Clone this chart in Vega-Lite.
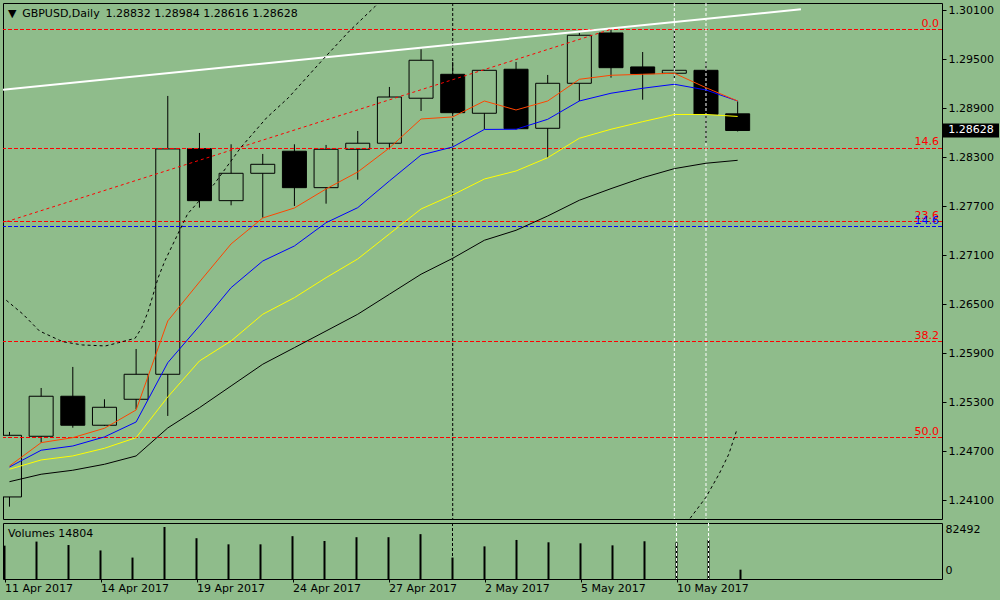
{
  "$schema": "https://vega.github.io/schema/vega-lite/v6.json",
  "background": "#8FBC8B",
  "padding": {"left": 2, "top": 2, "right": 2, "bottom": 6},
  "spacing": 2,
  "config": {
    "font": "DejaVu Sans",
    "view": {"stroke": "#000000", "strokeWidth": 1, "fill": "#8FBC8B"}
  },
  "datasets": {
    "candles": [
      {"i": 0, "date": "11 Apr 2017", "open": 1.24141, "high": 1.24937, "low": 1.24022, "close": 1.24896, "volume": 52900, "ma_orange": 1.24520, "ma_blue": 1.24508, "ma_yellow": 1.24480, "ma_black": 1.24328},
      {"i": 1, "date": "12 Apr 2017", "open": 1.24884, "high": 1.25475, "low": 1.24806, "close": 1.25374, "volume": 59360, "ma_orange": 1.24806, "ma_blue": 1.24713, "ma_yellow": 1.24594, "ma_black": 1.24419},
      {"i": 2, "date": "13 Apr 2017", "open": 1.25374, "high": 1.25733, "low": 1.24989, "close": 1.25019, "volume": 53860, "ma_orange": 1.24867, "ma_blue": 1.24765, "ma_yellow": 1.24643, "ma_black": 1.24468},
      {"i": 3, "date": "14 Apr 2017", "open": 1.25019, "high": 1.25337, "low": 1.25010, "close": 1.25239, "volume": 45290, "ma_orange": 1.24982, "ma_blue": 1.24876, "ma_yellow": 1.24737, "ma_black": 1.24541},
      {"i": 4, "date": "17 Apr 2017", "open": 1.25337, "high": 1.25953, "low": 1.25215, "close": 1.25643, "volume": 33970, "ma_orange": 1.25206, "ma_blue": 1.25059, "ma_yellow": 1.24867, "ma_black": 1.24643},
      {"i": 5, "date": "18 Apr 2017", "open": 1.25643, "high": 1.29051, "low": 1.25133, "close": 1.28402, "volume": 82492, "ma_orange": 1.26296, "ma_blue": 1.25785, "ma_yellow": 1.25365, "ma_black": 1.24986},
      {"i": 6, "date": "19 Apr 2017", "open": 1.28405, "high": 1.28598, "low": 1.27683, "close": 1.27769, "volume": 64700, "ma_orange": 1.26773, "ma_blue": 1.26235, "ma_yellow": 1.25806, "ma_black": 1.25234},
      {"i": 7, "date": "20 Apr 2017", "open": 1.27769, "high": 1.28459, "low": 1.27712, "close": 1.28104, "volume": 55000, "ma_orange": 1.27239, "ma_blue": 1.26704, "ma_yellow": 1.26051, "ma_black": 1.25500},
      {"i": 8, "date": "21 Apr 2017", "open": 1.28104, "high": 1.28341, "low": 1.27561, "close": 1.28214, "volume": 55000, "ma_orange": 1.27557, "ma_blue": 1.27030, "ma_yellow": 1.26378, "ma_black": 1.25766},
      {"i": 9, "date": "24 Apr 2017", "open": 1.28374, "high": 1.28459, "low": 1.27704, "close": 1.27928, "volume": 67940, "ma_orange": 1.27679, "ma_blue": 1.27214, "ma_yellow": 1.26581, "ma_black": 1.25969},
      {"i": 10, "date": "25 Apr 2017", "open": 1.27928, "high": 1.28451, "low": 1.27732, "close": 1.28398, "volume": 60330, "ma_orange": 1.27912, "ma_blue": 1.27499, "ma_yellow": 1.26826, "ma_black": 1.26173},
      {"i": 11, "date": "26 Apr 2017", "open": 1.28398, "high": 1.28622, "low": 1.28026, "close": 1.28472, "volume": 66320, "ma_orange": 1.28120, "ma_blue": 1.27683, "ma_yellow": 1.27055, "ma_black": 1.26378},
      {"i": 12, "date": "27 Apr 2017", "open": 1.28472, "high": 1.29161, "low": 1.28398, "close": 1.29038, "volume": 66320, "ma_orange": 1.28414, "ma_blue": 1.28010, "ma_yellow": 1.27361, "ma_black": 1.26623},
      {"i": 13, "date": "28 Apr 2017", "open": 1.29023, "high": 1.29622, "low": 1.28867, "close": 1.29488, "volume": 71170, "ma_orange": 1.28769, "ma_blue": 1.28328, "ma_yellow": 1.27667, "ma_black": 1.26868},
      {"i": 14, "date": "1 May 2017", "open": 1.29316, "high": 1.29467, "low": 1.28830, "close": 1.28846, "volume": 33970, "ma_orange": 1.28794, "ma_blue": 1.28426, "ma_yellow": 1.27839, "ma_black": 1.27063},
      {"i": 15, "date": "2 May 2017", "open": 1.28839, "high": 1.29370, "low": 1.28643, "close": 1.29365, "volume": 51760, "ma_orange": 1.28989, "ma_blue": 1.28641, "ma_yellow": 1.28034, "ma_black": 1.27284},
      {"i": 16, "date": "3 May 2017", "open": 1.29378, "high": 1.29467, "low": 1.28640, "close": 1.28650, "volume": 61950, "ma_orange": 1.28879, "ma_blue": 1.28643, "ma_yellow": 1.28132, "ma_black": 1.27406},
      {"i": 17, "date": "4 May 2017", "open": 1.28655, "high": 1.29308, "low": 1.28295, "close": 1.29206, "volume": 58230, "ma_orange": 1.28989, "ma_blue": 1.28765, "ma_yellow": 1.28295, "ma_black": 1.27581},
      {"i": 18, "date": "5 May 2017", "open": 1.29206, "high": 1.29822, "low": 1.28989, "close": 1.29794, "volume": 56610, "ma_orange": 1.29255, "ma_blue": 1.28989, "ma_yellow": 1.28533, "ma_black": 1.27774},
      {"i": 19, "date": "8 May 2017", "open": 1.29822, "high": 1.29867, "low": 1.29275, "close": 1.29397, "volume": 53380, "ma_orange": 1.29304, "ma_blue": 1.29084, "ma_yellow": 1.28643, "ma_black": 1.27916},
      {"i": 20, "date": "9 May 2017", "open": 1.29406, "high": 1.29589, "low": 1.29005, "close": 1.29324, "volume": 59850, "ma_orange": 1.29316, "ma_blue": 1.29145, "ma_yellow": 1.28736, "ma_black": 1.28050},
      {"i": 21, "date": "10 May 2017", "open": 1.29329, "high": 1.29859, "low": 1.29267, "close": 1.29365, "volume": 58230, "ma_orange": 1.29329, "ma_blue": 1.29194, "ma_yellow": 1.28824, "ma_black": 1.28161},
      {"i": 22, "date": "11 May 2017", "open": 1.29365, "high": 1.29471, "low": 1.28479, "close": 1.28827, "volume": 61950, "ma_orange": 1.29152, "ma_blue": 1.29124, "ma_yellow": 1.28824, "ma_black": 1.28227},
      {"i": 23, "date": "12 May 2017", "open": 1.28832, "high": 1.28984, "low": 1.28616, "close": 1.28628, "volume": 14804, "ma_orange": 1.28989, "ma_blue": 1.28989, "ma_yellow": 1.28800, "ma_black": 1.28263}
    ],
    "fibRed": [
      {"label": "0.0", "price": 1.298645},
      {"label": "14.6", "price": 1.284075},
      {"label": "23.6", "price": 1.275136},
      {"label": "38.2", "price": 1.260443},
      {"label": "50.0", "price": 1.248689}
    ],
    "fibBlue": [
      {"label": "14.6", "price": 1.274524}
    ],
    "trendWhite": [
      {"i": -1, "price": 1.29095},
      {"i": 25, "price": 1.30112}
    ],
    "trendRed": [
      {"i": -1, "price": 1.27400},
      {"i": 19, "price": 1.29867}
    ],
    "arcs": [
      {"arc": "a", "i": -0.1, "price": 1.26549},
      {"arc": "a", "i": 0.428, "price": 1.26378},
      {"arc": "a", "i": 0.947, "price": 1.26173},
      {"arc": "a", "i": 1.678, "price": 1.26042},
      {"arc": "a", "i": 2.303, "price": 1.26002},
      {"arc": "a", "i": 3.031, "price": 1.25990},
      {"arc": "a", "i": 3.447, "price": 1.26030},
      {"arc": "a", "i": 3.969, "price": 1.26084},
      {"arc": "a", "i": 4.178, "price": 1.26214},
      {"arc": "a", "i": 4.384, "price": 1.26418},
      {"arc": "a", "i": 4.697, "price": 1.26826},
      {"arc": "a", "i": 4.906, "price": 1.27030},
      {"arc": "a", "i": 5.625, "price": 1.27606},
      {"arc": "a", "i": 6.469, "price": 1.27973},
      {"arc": "a", "i": 7.303, "price": 1.28418},
      {"arc": "a", "i": 8.125, "price": 1.28785},
      {"arc": "a", "i": 8.813, "price": 1.29030},
      {"arc": "a", "i": 9.906, "price": 1.29500},
      {"arc": "a", "i": 10.74, "price": 1.29847},
      {"arc": "a", "i": 11.54, "price": 1.30144},
      {"arc": "a", "i": 11.78, "price": 1.30238},
      {"arc": "b", "i": 21.5, "price": 1.23880},
      {"arc": "b", "i": 21.99, "price": 1.24132},
      {"arc": "b", "i": 22.41, "price": 1.24419},
      {"arc": "b", "i": 22.72, "price": 1.24664},
      {"arc": "b", "i": 22.98, "price": 1.24970}
    ],
    "vBlack": [{"i": 14}],
    "vWhite": [{"i": 21}, {"i": 22}],
    "headers": [{"text": "▼\u00a0\u2009GBPUSD,Daily\u00a0\u20091.28832 1.28984 1.28616 1.28628"}],
    "volHeader": [{"text": "Volumes 14804"}]
  },
  "vconcat": [
    {
      "width": 939,
      "height": 516,
      "layer": [
        {
          "data": {"name": "candles"},
          "mark": {"type": "rule", "color": "#000000", "strokeWidth": 1, "clip": true},
          "encoding": {
            "x": {"field": "i", "type": "quantitative", "scale": {"domain": [-0.046875, 29.296875], "nice": false, "zero": false}, "axis": null},
            "y": {
              "field": "low",
              "type": "quantitative",
              "scale": {"domain": [1.23871, 1.30189], "nice": false, "zero": false},
              "axis": {
                "orient": "right",
                "values": [1.241, 1.247, 1.253, 1.259, 1.265, 1.271, 1.277, 1.283, 1.289, 1.295, 1.301],
                "format": ".5f",
                "title": null,
                "domain": false,
                "grid": false,
                "ticks": true,
                "tickSize": 4,
                "tickColor": "#000000",
                "labelColor": "#000000",
                "labelFont": "DejaVu Sans",
                "labelFontSize": 11,
                "labelPadding": 2,
                "labelFlush": false,
                "labelOverlap": false
              }
            },
            "y2": {"field": "high"}
          }
        },
        {
          "data": {"name": "candles"},
          "mark": {"type": "bar", "width": 24, "stroke": "#000000", "strokeWidth": 1, "clip": true},
          "encoding": {
            "x": {"field": "i", "type": "quantitative"},
            "y": {"field": "open", "type": "quantitative", "title": null},
            "y2": {"field": "close"},
            "fill": {"condition": {"test": "datum.close < datum.open", "value": "#000000"}, "value": "#8FBC8B"}
          }
        },
        {
          "data": {"name": "fibRed"},
          "mark": {"type": "rule", "color": "#FF0000", "strokeWidth": 1, "strokeDash": [4, 2]},
          "encoding": {"y": {"field": "price", "type": "quantitative", "title": null}}
        },
        {
          "data": {"name": "fibBlue"},
          "mark": {"type": "rule", "color": "#0000FF", "strokeWidth": 1, "strokeDash": [4, 2]},
          "encoding": {"y": {"field": "price", "type": "quantitative", "title": null}}
        },
        {
          "data": {"name": "vBlack"},
          "mark": {"type": "rule", "color": "#000000", "strokeWidth": 1, "strokeDash": [3, 2]},
          "encoding": {"x": {"field": "i", "type": "quantitative"}}
        },
        {
          "data": {"name": "vWhite"},
          "mark": {"type": "rule", "color": "#FFFFFF", "strokeWidth": 1, "strokeDash": [3, 2]},
          "encoding": {"x": {"field": "i", "type": "quantitative"}}
        },
        {
          "data": {"name": "trendWhite"},
          "mark": {"type": "line", "color": "#FFFFFF", "strokeWidth": 2, "clip": true},
          "encoding": {
            "x": {"field": "i", "type": "quantitative"},
            "y": {"field": "price", "type": "quantitative", "title": null}
          }
        },
        {
          "data": {"name": "trendRed"},
          "mark": {"type": "line", "color": "#FF0000", "strokeWidth": 1, "strokeDash": [3, 3], "clip": true},
          "encoding": {
            "x": {"field": "i", "type": "quantitative"},
            "y": {"field": "price", "type": "quantitative", "title": null}
          }
        },
        {
          "data": {"name": "arcs"},
          "mark": {"type": "line", "color": "#000000", "strokeWidth": 1, "strokeDash": [3, 3], "clip": true},
          "encoding": {
            "x": {"field": "i", "type": "quantitative"},
            "y": {"field": "price", "type": "quantitative", "title": null},
            "detail": {"field": "arc"}
          }
        },
        {
          "data": {"name": "candles"},
          "mark": {"type": "line", "color": "#000000", "strokeWidth": 1},
          "encoding": {
            "x": {"field": "i", "type": "quantitative"},
            "y": {"field": "ma_black", "type": "quantitative", "title": null}
          }
        },
        {
          "data": {"name": "candles"},
          "mark": {"type": "line", "color": "#FFFF00", "strokeWidth": 1},
          "encoding": {
            "x": {"field": "i", "type": "quantitative"},
            "y": {"field": "ma_yellow", "type": "quantitative", "title": null}
          }
        },
        {
          "data": {"name": "candles"},
          "mark": {"type": "line", "color": "#0000FF", "strokeWidth": 1},
          "encoding": {
            "x": {"field": "i", "type": "quantitative"},
            "y": {"field": "ma_blue", "type": "quantitative", "title": null}
          }
        },
        {
          "data": {"name": "candles"},
          "mark": {"type": "line", "color": "#FF4500", "strokeWidth": 1},
          "encoding": {
            "x": {"field": "i", "type": "quantitative"},
            "y": {"field": "ma_orange", "type": "quantitative", "title": null}
          }
        },
        {
          "data": {"name": "fibRed"},
          "mark": {"type": "text", "color": "#FF0000", "align": "right", "baseline": "alphabetic", "dy": -3, "x": {"expr": "width - 3"}, "font": "DejaVu Sans", "fontSize": 11},
          "encoding": {
            "y": {"field": "price", "type": "quantitative", "title": null},
            "text": {"field": "label", "type": "nominal"}
          }
        },
        {
          "data": {"name": "fibBlue"},
          "mark": {"type": "text", "color": "#0000FF", "align": "right", "baseline": "alphabetic", "dy": -3, "x": {"expr": "width - 3"}, "font": "DejaVu Sans", "fontSize": 11},
          "encoding": {
            "y": {"field": "price", "type": "quantitative", "title": null},
            "text": {"field": "label", "type": "nominal"}
          }
        },
        {
          "data": {"name": "candles"},
          "transform": [{"filter": "datum.i == 23"}],
          "mark": {"type": "point", "shape": "M-1,-0.25L1,-0.25L1,0.25L-1,0.25Z", "size": 3136, "filled": true, "color": "#000000", "opacity": 1, "x": {"expr": "width + 29"}},
          "encoding": {"y": {"field": "close", "type": "quantitative", "title": null}}
        },
        {
          "data": {"name": "candles"},
          "transform": [{"filter": "datum.i == 23"}],
          "mark": {"type": "text", "color": "#FFFFFF", "align": "center", "baseline": "middle", "x": {"expr": "width + 29"}, "font": "DejaVu Sans", "fontSize": 11},
          "encoding": {
            "y": {"field": "close", "type": "quantitative", "title": null},
            "text": {"field": "close", "type": "quantitative", "format": ".5f"}
          }
        },
        {
          "data": {"name": "headers"},
          "mark": {"type": "text", "color": "#000000", "align": "left", "baseline": "middle", "dx": 0, "dy": 11, "font": "DejaVu Sans", "fontSize": 11},
          "encoding": {
            "x": {"datum": -0.046875, "type": "quantitative"},
            "y": {"datum": 1.30189, "type": "quantitative", "title": null},
            "text": {"field": "text", "type": "nominal"}
          }
        }
      ]
    },
    {
      "width": 939,
      "height": 56,
      "layer": [
        {
          "data": {"name": "candles"},
          "mark": {"type": "rule", "color": "#000000", "strokeWidth": 2},
          "encoding": {
            "x": {
              "field": "i",
              "type": "quantitative",
              "scale": {"domain": [-0.046875, 29.296875], "nice": false, "zero": false},
              "axis": {
                "orient": "bottom",
                "values": [0, 3, 6, 9, 12, 15, 18, 21],
                "labelExpr": "['11 Apr 2017','12 Apr 2017','13 Apr 2017','14 Apr 2017','17 Apr 2017','18 Apr 2017','19 Apr 2017','20 Apr 2017','21 Apr 2017','24 Apr 2017','25 Apr 2017','26 Apr 2017','27 Apr 2017','28 Apr 2017','1 May 2017','2 May 2017','3 May 2017','4 May 2017','5 May 2017','8 May 2017','9 May 2017','10 May 2017','11 May 2017','12 May 2017'][datum.value]",
                "title": null,
                "domain": false,
                "grid": false,
                "ticks": true,
                "tickSize": 3,
                "tickColor": "#000000",
                "labelColor": "#000000",
                "labelFont": "DejaVu Sans",
                "labelFontSize": 11,
                "labelAlign": "left",
                "labelBaseline": "top",
                "labelPadding": 0,
                "labelFlush": false,
                "labelOverlap": false
              }
            },
            "y": {
              "field": "volume",
              "type": "quantitative",
              "scale": {"domain": [0, 88837], "nice": false, "zero": true},
              "axis": {
                "orient": "right",
                "values": [0, 82492],
                "format": "d",
                "title": null,
                "domain": false,
                "grid": false,
                "ticks": false,
                "labelColor": "#000000",
                "labelFont": "DejaVu Sans",
                "labelFontSize": 11,
                "labelPadding": 3,
                "labelFlush": false,
                "labelOverlap": false,
                "labelBaseline": "middle",
                "labelOffset": {"condition": {"test": "datum.value == 0", "value": -9}, "value": 3}
              }
            },
            "y2": {"datum": 0}
          }
        },
        {
          "data": {"name": "vBlack"},
          "mark": {"type": "rule", "color": "#000000", "strokeWidth": 1, "strokeDash": [3, 2]},
          "encoding": {"x": {"field": "i", "type": "quantitative"}}
        },
        {
          "data": {"name": "vWhite"},
          "mark": {"type": "rule", "color": "#FFFFFF", "strokeWidth": 1, "strokeDash": [3, 2]},
          "encoding": {"x": {"field": "i", "type": "quantitative"}}
        },
        {
          "data": {"name": "volHeader"},
          "mark": {"type": "text", "color": "#000000", "align": "left", "baseline": "middle", "dx": 5, "dy": 11, "font": "DejaVu Sans", "fontSize": 11},
          "encoding": {
            "x": {"datum": -0.046875, "type": "quantitative"},
            "y": {"datum": 88837, "type": "quantitative", "title": null},
            "text": {"field": "text", "type": "nominal"}
          }
        }
      ]
    }
  ]
}
